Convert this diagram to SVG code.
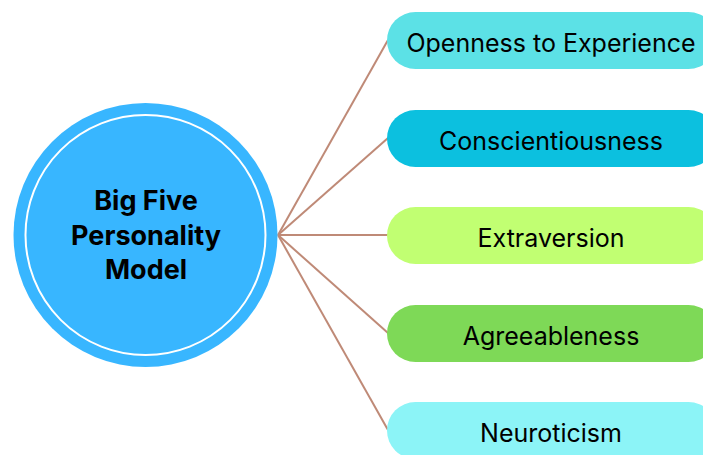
<svg xmlns="http://www.w3.org/2000/svg" width="703" height="455" viewBox="0 0 703 455">
<style>
.pill text{font-family:Inter,"Noto Sans",sans-serif;font-size:25px;fill:#000;text-anchor:middle}
.title{font-family:Inter,"Noto Sans",sans-serif;font-size:27px;font-weight:bold;fill:#000;text-anchor:middle}
.conn line{stroke:#bf8a77;stroke-width:2}
</style>
<rect width="703" height="455" fill="#fff"/>
<g id="connectors" class="conn">
<line x1="278" y1="235" x2="388" y2="40"/>
<line x1="278" y1="235" x2="388" y2="138"/>
<line x1="278" y1="235" x2="388" y2="235"/>
<line x1="278" y1="235" x2="388" y2="333"/>
<line x1="278" y1="235" x2="388" y2="430"/>
</g>
<g id="center">
<circle cx="145.5" cy="235" r="132" fill="#38b6ff"/>
<circle cx="145.5" cy="235" r="120" fill="none" stroke="#fff" stroke-width="2"/>
<text class="title" x="146" y="210">Big Five</text>
<text class="title" x="146" y="245">Personality</text>
<text class="title" x="146" y="279">Model</text>
</g>
<g id="openness" class="pill">
<rect x="387" y="12" width="330" height="57" rx="28.5" fill="#5ce1e6"/>
<text x="551" y="51.5">Openness to Experience</text>
</g>
<g id="conscientiousness" class="pill">
<rect x="387" y="110" width="330" height="57" rx="28.5" fill="#0cc0df"/>
<text x="551" y="149.5">Conscientiousness</text>
</g>
<g id="extraversion" class="pill">
<rect x="387" y="207" width="330" height="57" rx="28.5" fill="#c1ff72"/>
<text x="551" y="246.5">Extraversion</text>
</g>
<g id="agreeableness" class="pill">
<rect x="387" y="305" width="330" height="57" rx="28.5" fill="#7ed957"/>
<text x="551" y="344.5">Agreeableness</text>
</g>
<g id="neuroticism" class="pill">
<rect x="387" y="402" width="330" height="57" rx="28.5" fill="#8cf4f7"/>
<text x="551" y="441.5">Neuroticism</text>
</g>
</svg>
